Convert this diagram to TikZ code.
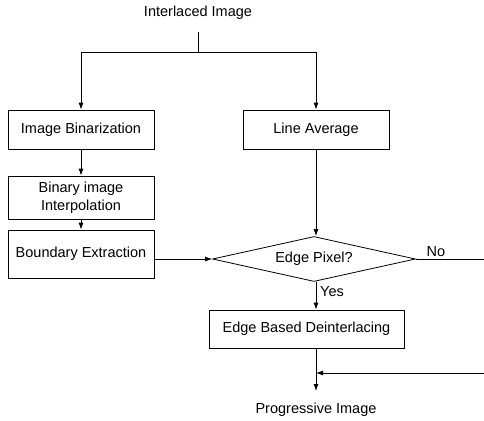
\documentclass[tikz,border=0pt]{standalone}
\usepackage{fontspec}
\setmainfont{Liberation Sans}
\usetikzlibrary{arrows.meta,shapes.geometric}
\begin{document}
\begin{tikzpicture}[x=1pt,y=-1pt,
  every node/.style={font=\fontsize{14.5}{18}\selectfont},
  blk/.style={draw,line width=0.8pt,inner sep=0pt,align=center},
  lbl/.style={inner sep=0pt},
  conn/.style={line width=0.8pt},
  arr/.style={conn,-{Latex[length=7pt,width=5pt]}}]
\useasboundingbox (0,0) rectangle (484,420);
\node[lbl] (in) at (198,13) {Interlaced Image};
\coordinate (split) at (198,52);
\coordinate (top) at (198,32);
\node[blk,minimum width=146pt,minimum height=39pt] (bin) at (81,129.5) {Image Binarization};
\node[blk,minimum width=146pt,minimum height=39pt] (la) at (316,129.5) {Line Average};
\node[blk,minimum width=146pt,minimum height=43pt] (interp) at (81,197.5) {Binary image\\Interpolation};
\node[blk,minimum width=146pt,minimum height=48pt] (bound) at (81,254) {Boundary Extraction};
\node[draw,line width=0.8pt,diamond,aspect=4.5,inner sep=0pt,minimum width=203pt,minimum height=45pt] (edge) at (314,259) {Edge Pixel?};
\node[blk,minimum width=195pt,minimum height=38pt] (ebd) at (306.5,329) {Edge Based Deinterlacing};
\node[lbl] (out) at (316,410) {Progressive Image};
\node[lbl] (no) at (436,252) {No};
\node[lbl,anchor=west] (yes) at (320,292) {Yes};
\coordinate (noend) at (484,259);
\coordinate (ret) at (484,373);
\coordinate (merge) at (316,373);
\coordinate (outp) at (316,391);

\draw[conn] (top) -- (split);
\draw[arr] (split) -| (bin.north);
\draw[arr] (split) -| (la.north);
\draw[arr] (bin) -- (interp);
\draw[arr] (interp) -- (bound);
\draw[arr] (bound.east |- edge.west) -- (edge.west);
\draw[arr] (la.south) -- (la.south |- edge.north);
\draw[conn] (edge.east) -- (noend);
\draw[arr] (la |- edge.south) -- (la |- ebd.north);
\draw[arr] (la |- ebd.south) -- (outp);
\draw[arr] (ret) -- (merge);
\end{tikzpicture}
\end{document}
